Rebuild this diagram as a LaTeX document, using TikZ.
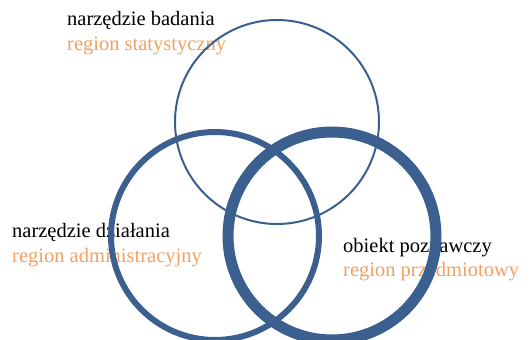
\documentclass[tikz,border=0pt]{standalone}
\usepackage{fontspec}
\setmainfont{Liberation Serif}
\definecolor{ringblue}{RGB}{59,96,144}
\definecolor{labelorange}{RGB}{244,160,98}
\tikzset{
  ring/.style={circle, draw=ringblue, inner sep=0pt, minimum size=#1},
  lbl/.style={anchor=base west, inner sep=0pt, text=black, font=\fontsize{20.5}{24}\selectfont},
  sub/.style={lbl, text=labelorange}
}
\begin{document}
\begin{tikzpicture}[x=1pt,y=-1pt]
\useasboundingbox[fill=white] (0,0) rectangle (531,340);
% labels
\node[lbl] (t1) at (67,25) {narzędzie badania};
\node[sub] (t2) at (67,50) {region statystyczny};
\node[lbl] (l1) at (12,237) {narzędzie działania};
\node[sub] (l2) at (12,262) {region administracyjny};
\node[lbl] (r1) at (343,252) {obiekt poznawczy};
\node[sub] (r2) at (343,276) {region przedmiotowy};
% rings
\node[ring=204pt, line width=2pt] (top) at (277,122) {};
\node[ring=208pt, line width=6pt] (left) at (215,236) {};
\node[ring=208pt, line width=11pt] (right) at (332,236) {};
\end{tikzpicture}
\end{document}
